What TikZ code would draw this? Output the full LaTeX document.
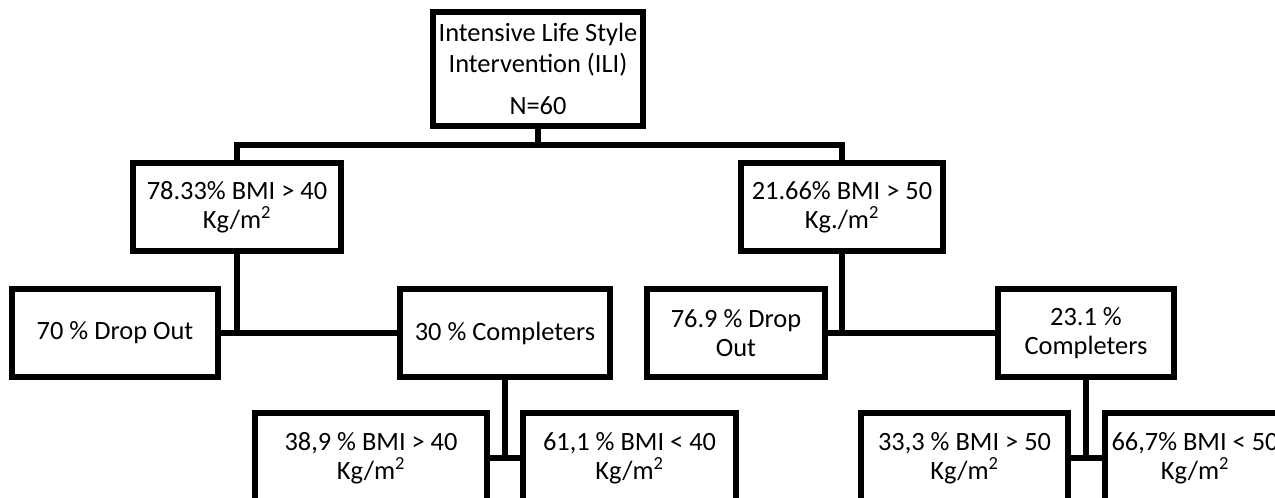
\documentclass[tikz,border=0pt]{standalone}
\usepackage{fontspec}
\setmainfont{Carlito}
\newcommand{\sqm}{Kg/m\textsuperscript{2}}
\begin{document}
\begin{tikzpicture}[x=0.75pt,y=-0.75pt,
  box/.style={draw, line width=3.8pt, inner sep=0pt, align=center,
    font=\fontsize{19.8}{21.8}\selectfont},
  sz/.style 2 args={minimum width=#1*0.75pt, minimum height=#2*0.75pt},
  wire/.style={line width=3.8pt}]

\fill[white] (0,0) rectangle (1275,497);
\clip (0,0) rectangle (1275,497);

% top of the tree
\node[box, sz={210}{114}, font=\fontsize{19.8}{23}\selectfont] (root) at (538,69)
  {Intensive Life Style\\Intervention (ILI)\\[9pt]N=60};

% BMI groups
\node[box, sz={208}{88}] (m1) at (237,207) {78.33\% BMI > 40\\\sqm};
\node[box, sz={202}{88}] (m2) at (842,207) {21.66\% BMI > 50\\Kg./m\textsuperscript{2}};

% drop out / completers
\node[box, sz={206}{88}] (d1) at (115,333) {70 \% Drop Out};
\node[box, sz={210}{88}] (c1) at (505,333) {30 \% Completers};
\node[box, sz={178}{88}] (d2) at (736,333) {76.9 \% Drop\\Out};
\node[box, sz={176}{88}] (c2) at (1086,333) {23.1 \%\\Completers};

% completers split by BMI
\node[box, sz={232}{90}] (b1) at (371,458) {38,9 \% BMI > 40\\\sqm};
\node[box, sz={213}{90}] (b2) at (629.5,458) {61,1 \% BMI < 40\\\sqm};
\node[box, sz={207}{90}] (b3) at (964.5,458) {33,3 \% BMI > 50\\\sqm};
\node[box, sz={180}{90}] (b4) at (1195,458) {66,7\% BMI < 50\\\sqm};

% connectors
\coordinate (bus) at (538,145);
\draw[wire] (root.south) -- (bus);
\draw[wire] (m1.north) |- (bus) -| (m2.north);

\draw[wire] (m1.south) -- (m1.south |- d1.east);
\draw[wire] (d1.east) -- (c1.west);
\draw[wire] (m2.south) -- (m2.south |- d2.east);
\draw[wire] (d2.east) -- (c2.west);

\draw[wire] (c1.south) -- (c1.south |- b1.east);
\draw[wire] (b1.east) -- (b2.west);
\draw[wire] (c2.south) -- (c2.south |- b3.east);
\draw[wire] (b3.east) -- (b4.west);
\end{tikzpicture}
\end{document}
